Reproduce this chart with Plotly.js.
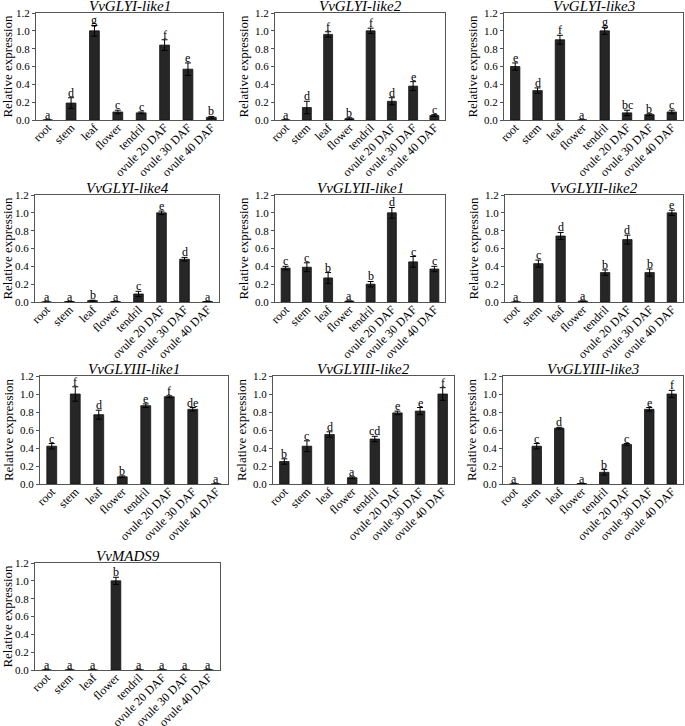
<!DOCTYPE html>
<html><head><meta charset="utf-8">
<script src="https://cdn.plot.ly/plotly-3.0.1.min.js"></script>
<style>body{margin:0;padding:0;background:#fff}#c{width:685px;height:726px}</style>
</head><body><div id="c"></div>
<script>
const categories = ["root","stem","leaf","flower","tendril","ovule 20 DAF","ovule 30 DAF","ovule 40 DAF"];
const yTickVals = [0,0.2,0.4,0.6,0.8,1.0,1.2];
const yTickText = ["0.0","0.2","0.4","0.6","0.8","1.0","1.2"];

const gene1 = "VvGLYI-like1";
const val1 = [0, 0.19, 1.0, 0.09, 0.08, 0.84, 0.57, 0.03];
const err1 = [0, 0.06, 0.06, 0.02, 0.01, 0.06, 0.07, 0.01];
const let1 = ["a","d","g","c","c","f","e","b"];

const gene2 = "VvGLYI-like2";
const val2 = [0, 0.14, 0.96, 0.015, 1.0, 0.21, 0.38, 0.05];
const err2 = [0, 0.07, 0.03, 0.01, 0.03, 0.04, 0.05, 0.01];
const let2 = ["a","d","f","b","f","d","e","c"];

const gene3 = "VvGLYI-like3";
const val3 = [0.60, 0.33, 0.90, 0, 1.0, 0.08, 0.06, 0.09];
const err3 = [0.04, 0.03, 0.05, 0, 0.04, 0.03, 0.01, 0.02];
const let3 = ["e","d","f","a","g","bc","b","c"];

const gene4 = "VvGLYI-like4";
const val4 = [0, 0.005, 0.015, 0.005, 0.09, 1.0, 0.48, 0.005];
const err4 = [0, 0, 0.005, 0, 0.03, 0.02, 0.02, 0];
const let4 = ["a","a","b","a","c","e","d","a"];

const gene5 = "VvGLYII-like1";
const val5 = [0.38, 0.39, 0.27, 0.01, 0.20, 1.0, 0.45, 0.37];
const err5 = [0.02, 0.05, 0.06, 0, 0.03, 0.06, 0.06, 0.03];
const let5 = ["c","c","b","a","b","d","c","c"];

const gene6 = "VvGLYII-like2";
const val6 = [0, 0.43, 0.74, 0.01, 0.33, 0.70, 0.33, 1.0];
const err6 = [0, 0.04, 0.04, 0, 0.03, 0.05, 0.04, 0.03];
const let6 = ["a","c","d","a","b","d","b","e"];

const gene7 = "VvGLYIII-like1";
const val7 = [0.42, 1.0, 0.77, 0.08, 0.87, 0.97, 0.83, 0];
const err7 = [0.03, 0.08, 0.05, 0.01, 0.02, 0.01, 0.02, 0];
const let7 = ["c","f","d","b","e","f","de","a"];

const gene8 = "VvGLYIII-like2";
const val8 = [0.25, 0.42, 0.55, 0.07, 0.50, 0.79, 0.81, 1.0];
const err8 = [0.03, 0.06, 0.03, 0.01, 0.03, 0.02, 0.04, 0.07];
const let8 = ["b","c","d","a","cd","e","e","f"];

const gene9 = "VvGLYIII-like3";
const val9 = [0, 0.42, 0.62, 0.005, 0.13, 0.44, 0.83, 1.0];
const err9 = [0, 0.03, 0.01, 0, 0.03, 0.01, 0.02, 0.04];
const let9 = ["a","c","d","a","b","c","e","f"];

const gene10 = "VvMADS9";
const val10 = [0, 0, 0, 1.0, 0, 0, 0, 0];
const err10 = [0, 0, 0, 0.04, 0, 0, 0, 0];
const let10 = ["a","a","a","b","a","a","a","a"];

const genes = [gene1,gene2,gene3,gene4,gene5,gene6,gene7,gene8,gene9,gene10];
const vals = [val1,val2,val3,val4,val5,val6,val7,val8,val9,val10];
const errs = [err1,err2,err3,err4,err5,err6,err7,err8,err9,err10];
const lets = [let1,let2,let3,let4,let5,let6,let7,let8,let9,let10];

// pixel boxes [left, right, top, bottom]
const W = 685, H = 726;
const boxes = [
  [36,223,13,120],[275,445,13,120],[504,683,13,120],
  [35,219,195,302],[275,445,195,302],[505,683,195,302],
  [40,228,376,484],[273,454,376,484],[503,683,376,484],
  [35,220,563,670]
];
const FONT = "Liberation Serif";
const traces = [];
const layout = {
  width: W, height: H, margin:{l:0,r:0,t:0,b:0},
  paper_bgcolor:"#fff", plot_bgcolor:"#fff", showlegend:false,
  font:{family:FONT, size:13, color:"black"},
  annotations: [], bargap: 0.58
};
for (let i=0;i<10;i++){
  const n = i===0 ? "" : String(i+1);
  const b = boxes[i];
  traces.push({
    type:"bar", x:categories, y:vals[i], xaxis:"x"+n, yaxis:"y"+n,
    marker:{color:"#262626", line:{color:"#111", width:0.8}},
    error_y:{type:"data", array:errs[i], visible:true, color:"black", thickness:1, width:3},
    hoverinfo:"none"
  });
  layout["xaxis"+n] = {
    domain:[b[0]/W, b[1]/W], anchor:"y"+n, type:"category",
    tickangle:-45, showline:true, mirror:true, linecolor:"#555", linewidth:1,
    ticks:"", showgrid:false, zeroline:false, ticklabelstandoff:-5,
    tickfont:{family:FONT, size:12, color:"black"}
  };
  layout["yaxis"+n] = {
    domain:[1-b[3]/H, 1-b[2]/H], anchor:"x"+n, range:[0,1.2],
    tickvals:yTickVals, ticktext:yTickText, ticks:"outside", ticklen:3, tickcolor:"#555",
    showline:true, mirror:true, linecolor:"#555", linewidth:1,
    showgrid:false, zeroline:false,
    tickfont:{family:FONT, size:11, color:"black"},
    title:{text:"Relative expression", font:{family:FONT, size:13, color:"black"}, standoff:3}
  };
  layout.annotations.push({
    xref:"paper", yref:"paper", x:(b[0]+b[1])/2/W, y:1-b[2]/H, yanchor:"bottom", xanchor:"center",
    text:"<i>"+genes[i]+"</i>", showarrow:false, font:{family:FONT, size:15, color:"black"}, yshift:-3
  });
  for (let j=0;j<categories.length;j++){
    layout.annotations.push({
      xref:"x"+n, yref:"y"+n, x:categories[j], y:vals[i][j]+errs[i][j],
      yanchor:"bottom", text:lets[i][j], showarrow:false,
      font:{family:FONT, size:12, color:"black"}, yshift:-4
    });
  }
}
Plotly.newPlot("c", traces, layout, {staticPlot:true});
</script></body></html>
